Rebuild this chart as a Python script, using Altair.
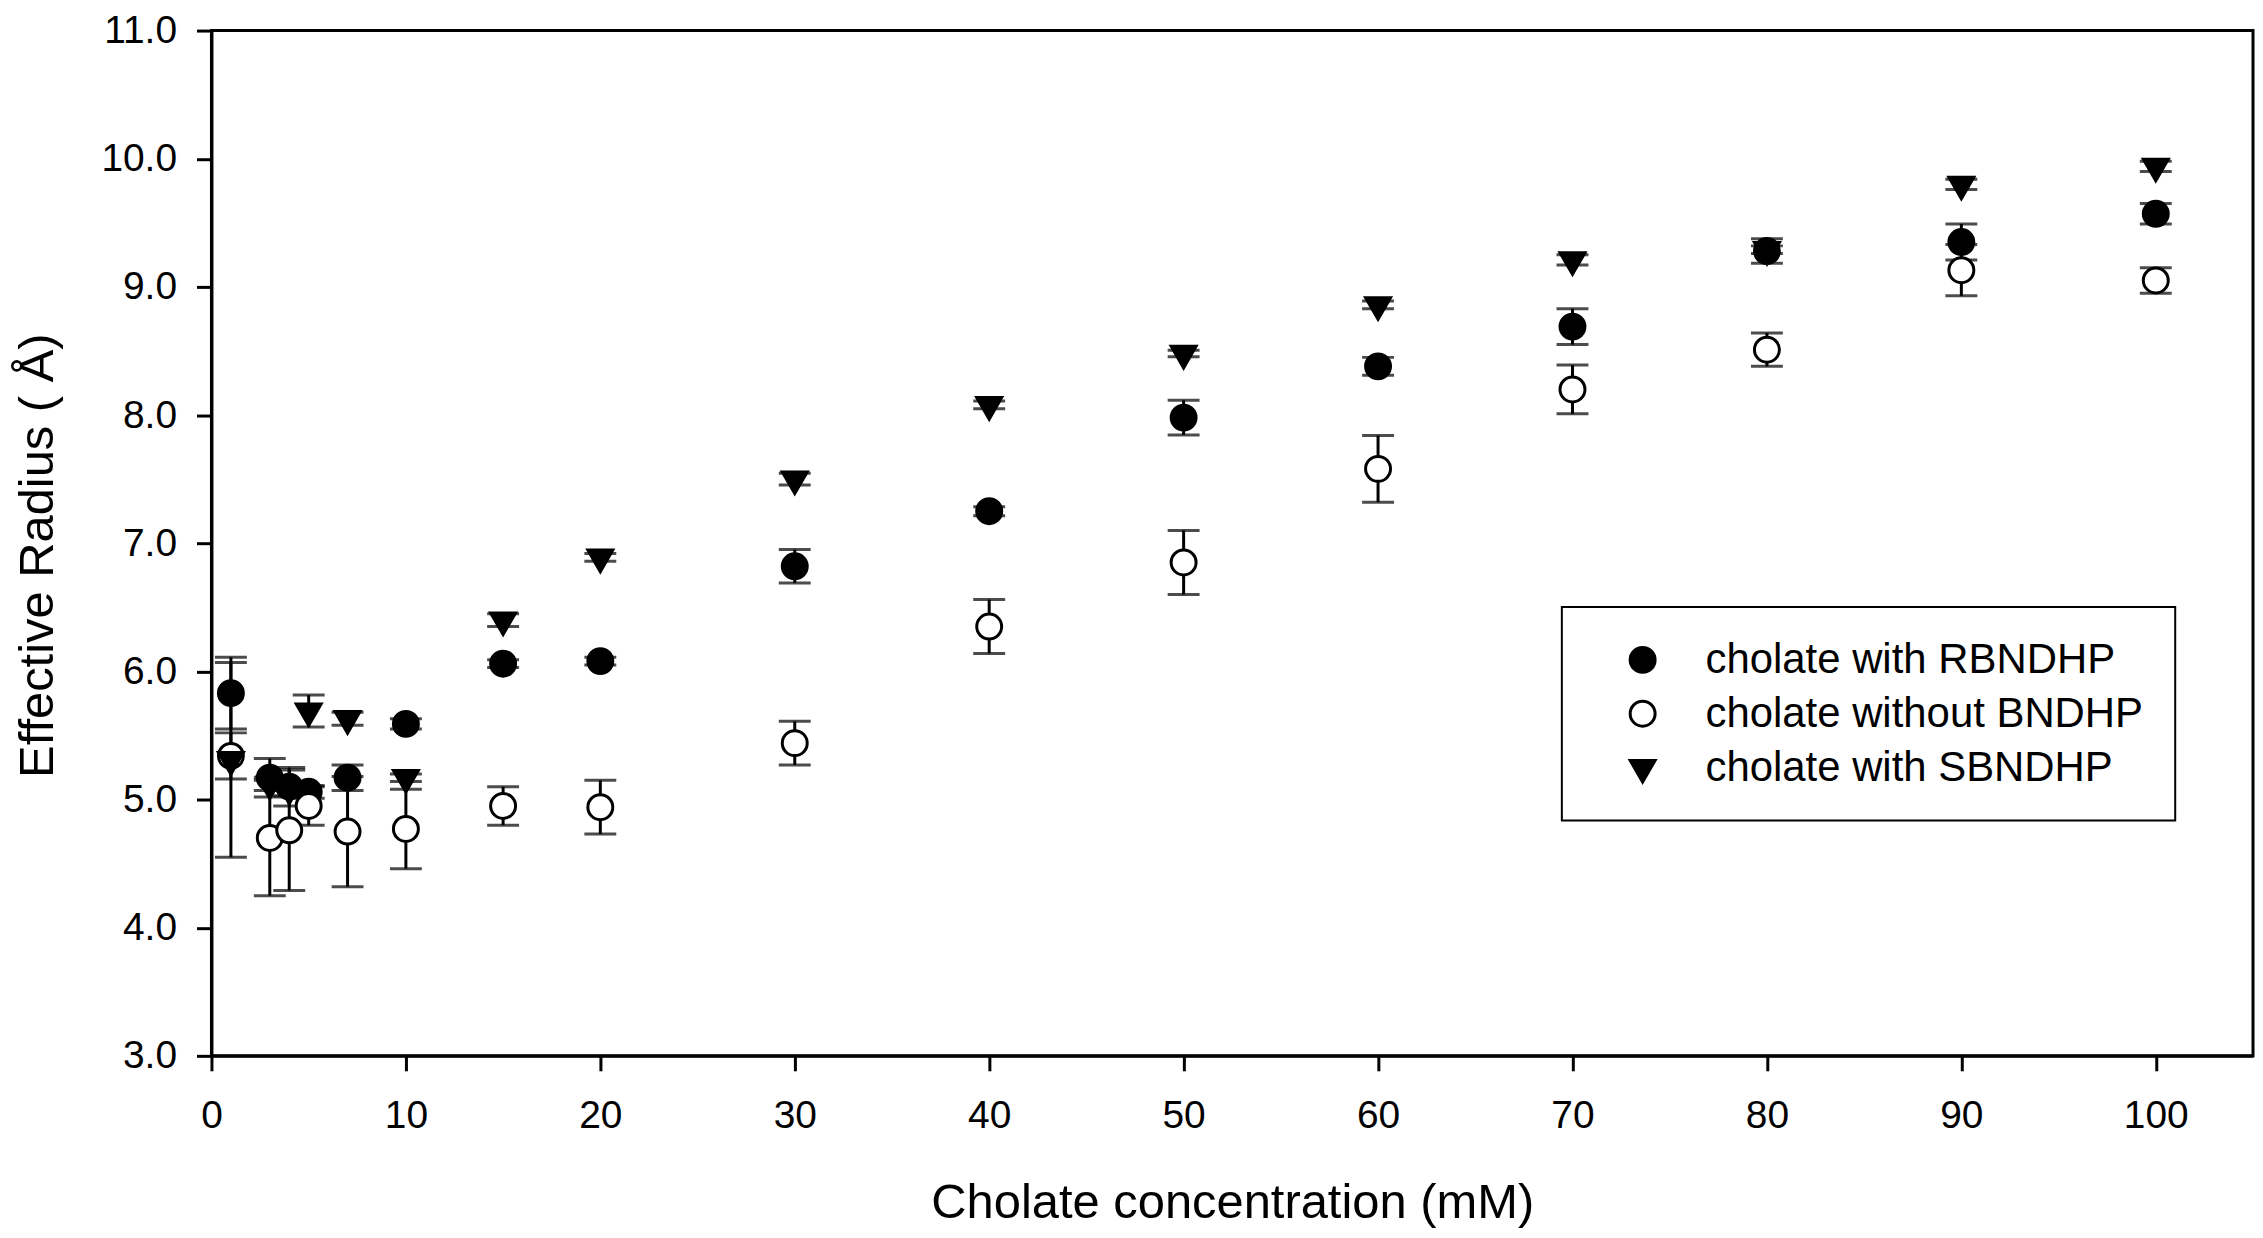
import altair as alt
import pandas as pd

conc = [1, 3, 4, 5, 7, 10, 15, 20, 30, 40, 50, 60, 70, 80, 90, 100]
series_names = ["cholate with RBNDHP", "cholate without BNDHP", "cholate with SBNDHP"]

rb_y = [5.83, 5.17, 5.10, 5.06, 5.17, 5.59, 6.06, 6.08, 6.82, 7.25, 7.98, 8.38, 8.69, 9.28, 9.35, 9.57]
rb_err = [0.28, 0.15, 0.15, 0.05, 0.10, 0.04, 0.03, 0.03, 0.13, 0.035, 0.135, 0.07, 0.14, 0.095, 0.14, 0.08]

wo_y = [5.34, 4.70, 4.76, 4.95, 4.75, 4.77, 4.95, 4.94, 5.44, 6.35, 6.85, 7.58, 8.20, 8.51, 9.13, 9.05]
wo_err = [0.18, 0.45, 0.47, 0.15, 0.43, 0.31, 0.15, 0.21, 0.17, 0.21, 0.25, 0.26, 0.19, 0.13, 0.20, 0.10]

sb_y = [5.31, 5.12, 5.08, 5.69, 5.63, 5.17, 6.40, 6.89, 7.50, 8.08, 8.48, 8.86, 9.21, 9.29, 9.80, 9.94]
sb_err = [0.76, 0.05, 0.05, 0.125, 0.05, 0.03, 0.05, 0.03, 0.045, 0.03, 0.025, 0.03, 0.04, 0.03, 0.04, 0.04]

rows = []
for name, ys, es in zip(series_names, [rb_y, wo_y, sb_y], [rb_err, wo_err, sb_err]):
    for c, y, e in zip(conc, ys, es):
        rows.append({"conc": c, "radius": y, "err": e, "series": name})
df = pd.DataFrame(rows)

FONT = "Liberation Sans, Arial, sans-serif"
TRI_DOWN = "M-1,-0.577L1,-0.577L0,1.155Z"

x_scale = alt.Scale(domain=[0, 105], nice=False, zero=False)
y_scale = alt.Scale(domain=[3, 11], nice=False, zero=False)
x_axis = alt.Axis(values=list(range(0, 101, 10)), format="d",
                  title="Cholate concentration (mM)", labelFlush=False,
                  labelPadding=26, titleY=162, titleBaseline="alphabetic")
y_axis = alt.Axis(values=list(range(3, 12)), format=".1f",
                  title="Effective Radius ( Å)", labelFlush=False,
                  titleX=-159, titleY=526, titleBaseline="alphabetic")

base = alt.Chart(df).transform_calculate(
    lo="datum.radius - datum.err", hi="datum.radius + datum.err"
)

rules = base.mark_rule(color="black", strokeWidth=3).encode(
    x=alt.X("conc:Q", scale=x_scale, axis=x_axis),
    y=alt.Y("lo:Q", scale=y_scale, axis=y_axis),
    y2="hi:Q",
)
cap_lo = base.mark_tick(color="black", orient="horizontal", size=32, thickness=3).encode(
    x=alt.X("conc:Q", scale=x_scale, axis=x_axis),
    y=alt.Y("lo:Q", scale=y_scale, axis=y_axis),
)
cap_hi = base.mark_tick(color="black", orient="horizontal", size=32, thickness=3).encode(
    x=alt.X("conc:Q", scale=x_scale, axis=x_axis),
    y=alt.Y("hi:Q", scale=y_scale, axis=y_axis),
)

legend = alt.Legend(
    title=None, orient="none", legendX=1354, legendY=578,
    padding=32, rowPadding=12, symbolOffset=28, labelOffset=42,
    strokeColor="black", symbolStrokeWidth=3, labelFont=FONT, labelFontSize=42,
    labelColor="black", labelLimit=1000,
)

points = base.mark_point(filled=True, strokeWidth=3, opacity=1).encode(
    x=alt.X("conc:Q", scale=x_scale, axis=x_axis),
    y=alt.Y("radius:Q", scale=y_scale, axis=y_axis),
    shape=alt.Shape("series:N", scale=alt.Scale(domain=series_names,
                    range=["circle", "circle", TRI_DOWN]), legend=legend),
    fill=alt.Fill("series:N", scale=alt.Scale(domain=series_names,
                  range=["black", "white", "black"]), legend=legend),
    stroke=alt.Stroke("series:N", scale=alt.Scale(domain=series_names,
                      range=["black", "black", "black"]), legend=legend),
    size=alt.Size("series:N", scale=alt.Scale(domain=series_names,
                  range=[625, 625, 784]), legend=legend),
)

chart = alt.layer(rules, cap_lo, cap_hi, points).properties(
    width=2047, height=1028,
    autosize=alt.AutoSizeParams(type="none"),
    padding={"left": 204, "top": 21, "right": 2, "bottom": 173},
).configure_view(
    stroke="black", strokeWidth=3
).configure_axis(
    grid=False, domainColor="black", domainWidth=3, tickColor="black",
    tickWidth=3, tickSize=15, labelFont=FONT, labelFontSize=39,
    labelColor="black", labelPadding=20, titleFont=FONT, titleFontSize=49,
    titleFontWeight="normal", titleColor="black",
).configure_legend(
    strokeWidth=2
)

chart.save("out.html", embed_options={"renderer": "svg", "actions": False})
